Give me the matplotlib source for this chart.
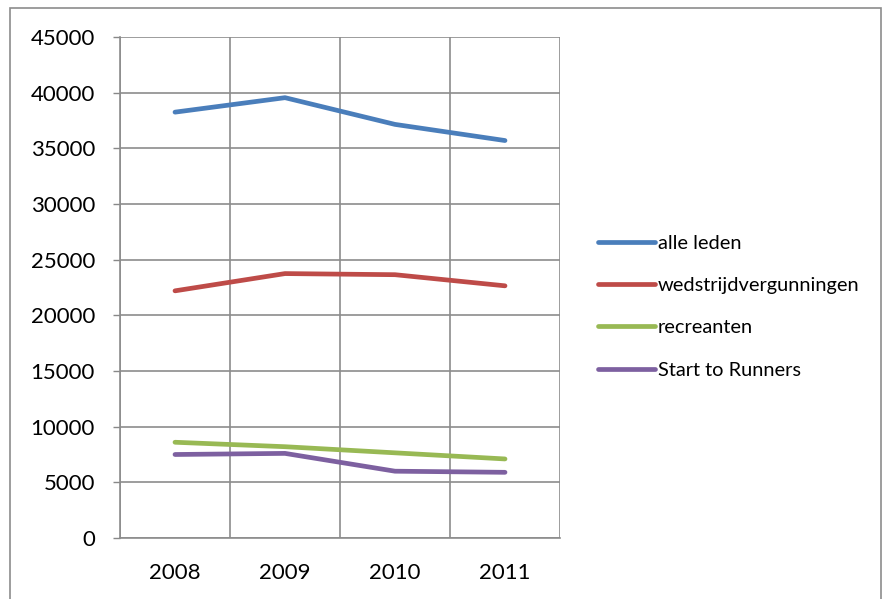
import matplotlib
matplotlib.use("Agg")
import matplotlib.pyplot as plt
from matplotlib.patches import Rectangle

years = ["2008", "2009", "2010", "2011"]
alle_leden = [38250, 39550, 37150, 35700]
wedstrijdvergunningen = [22200, 23750, 23650, 22650]
recreanten = [8600, 8200, 7650, 7100]
start_to_runners = [7500, 7600, 6000, 5900]

series = [
    ("alle leden", alle_leden, "#4A7EBB"),
    ("wedstrijdvergunningen", wedstrijdvergunningen, "#BE4B48"),
    ("recreanten", recreanten, "#98B954"),
    ("Start to Runners", start_to_runners, "#7D60A0"),
]

plt.rcParams['font.family'] = ['Lato', 'DejaVu Sans']

fig = plt.figure(figsize=(8.9, 5.99), dpi=100)
W, H = 890, 599
ax = fig.add_axes([120 / W, 1 - 538 / H, 440 / W, 501 / H])

x = list(range(len(years)))
for name, vals, col in series:
    ax.plot(x, vals, color=col, lw=3.4, solid_capstyle='round', solid_joinstyle='round', label=name)

ax.set_xlim(-0.5, 3.5)
ax.set_ylim(0, 45000)
ax.set_yticks(range(0, 45001, 5000))
ax.set_xticks([-0.5, 0.5, 1.5, 2.5, 3.5])
ax.set_xticklabels([])
ax.set_xticks(x, minor=True)
ax.set_xticklabels(years, minor=True)
ax.tick_params(axis='x', which='both', length=0, labelsize=16, pad=18)
ax.tick_params(axis='y', length=5, width=1, color='#888888', labelsize=16, pad=13)
ax.grid(True, which='major', color='#8C8C8C', lw=1.2)
ax.set_axisbelow(True)
for s in ['top', 'right']:
    ax.spines[s].set_visible(False)
for s in ['left', 'bottom']:
    ax.spines[s].set_color('#8C8C8C')
    ax.spines[s].set_linewidth(1.2)

leg = fig.legend(loc='upper left', bbox_to_anchor=(598 / W, 1 - 235 / H), frameon=False,
                 fontsize=14.4, handlelength=2.85, handletextpad=0.15, labelspacing=1.26,
                 borderaxespad=0, borderpad=0)

fig.patches.append(Rectangle((10 / W, -0.05), 871 / W, 1.05 - 8 / H, transform=fig.transFigure,
                             fill=False, edgecolor='#8C8C8C', lw=1.2))

fig.savefig("out.png", dpi=100)
